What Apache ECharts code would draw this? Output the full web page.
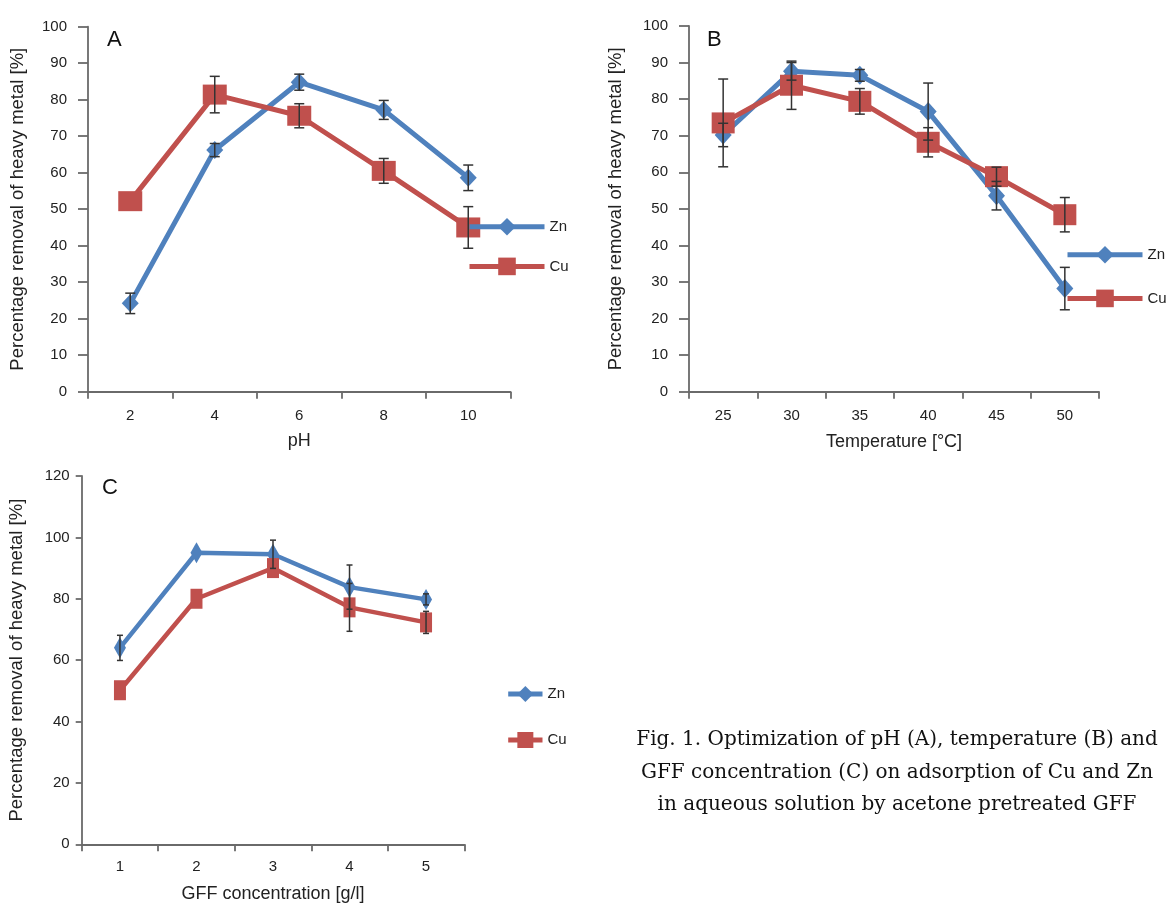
<!DOCTYPE html>
<html><head><meta charset="utf-8">
<script src="https://cdn.jsdelivr.net/npm/echarts@6/dist/echarts.min.js"></script>
<style>html,body{margin:0;padding:0;background:#fff}#c{width:1167px;height:905px}</style>
</head><body><div id="c"></div>
<script>
// ---- Panel A: pH ----
const phCats = ['2', '4', '6', '8', '10'];
const znPH = [24.2, 66.2, 84.8, 77.2, 58.6];
const cuPH = [52.2, 81.4, 75.6, 60.5, 45.0];
const znPHErr = [2.8, 1.8, 2.2, 2.6, 3.5];
const cuPHErr = [0, 5.0, 3.3, 3.4, 5.7];

// ---- Panel B: temperature ----
const tempCats = ['25', '30', '35', '40', '45', '50'];
const znT = [70.2, 87.6, 86.5, 76.6, 53.6, 28.2];
const cuT = [73.5, 83.8, 79.4, 68.2, 58.8, 48.4];
const znTErr = [3.2, 2.4, 1.6, 7.8, 3.9, 5.8];
const cuTErr = [12.0, 6.6, 3.5, 4.0, 2.6, 4.7];

// ---- Panel C: GFF concentration ----
const gffCats = ['1', '2', '3', '4', '5'];
const znG = [64.0, 95.0, 94.5, 83.8, 79.8];
const cuG = [50.2, 80.0, 90.0, 77.2, 72.3];
const znGErr = [4.1, 0, 4.6, 7.2, 1.8];
const cuGErr = [0, 0, 0, 7.8, 3.6];

const yTitle = 'Percentage removal of heavy metal [%]';
const BLUE = '#4F81BD', RED = '#C0504D';
const AXIS = '#6a6a6a';
const FONT = 'Liberation Sans, Arial, sans-serif';

const chart = echarts.init(document.getElementById('c'));

function errData(vals, errs) { return vals.map((v, i) => [i, v, errs[i]]); }
function errRender(capW) {
  return function (params, api) {
    const x = api.value(0), v = api.value(1), e = api.value(2);
    if (!e) return { type: 'group', children: [] };
    const hi = api.coord([x, v + e]), lo = api.coord([x, v - e]);
    const cx = hi[0];
    const style = { stroke: '#333', lineWidth: 1.5 };
    return { type: 'group', children: [
      { type: 'line', shape: { x1: cx, y1: hi[1], x2: cx, y2: lo[1] }, style },
      { type: 'line', shape: { x1: cx - capW / 2, y1: hi[1], x2: cx + capW / 2, y2: hi[1] }, style },
      { type: 'line', shape: { x1: cx - capW / 2, y1: lo[1], x2: cx + capW / 2, y2: lo[1] }, style }
    ]};
  };
}

function xAx(idx, cats, name, gap, labelMargin) {
  return {
    type: 'category', gridIndex: idx, data: cats, boundaryGap: true,
    name: name, nameLocation: 'middle', nameGap: gap,
    nameTextStyle: { fontFamily: FONT, fontSize: 18, color: '#222' },
    axisLine: { lineStyle: { color: AXIS, width: 1.8 } },
    axisTick: { show: true, length: 7, alignWithLabel: false, lineStyle: { color: AXIS, width: 1.8 } },
    axisLabel: { fontFamily: FONT, fontSize: 15, color: '#222', margin: labelMargin, interval: 0 },
    splitLine: { show: false }
  };
}
function yAx(idx, max, interval, gap, tickLen, labelMargin) {
  return {
    type: 'value', gridIndex: idx, min: 0, max: max, interval: interval,
    name: yTitle, nameLocation: 'middle', nameGap: gap,
    nameTextStyle: { fontFamily: FONT, fontSize: 18.5, color: '#222' },
    axisLine: { show: true, lineStyle: { color: AXIS, width: 1.8 } },
    axisTick: { show: true, length: tickLen, lineStyle: { color: AXIS, width: 1.8 } },
    axisLabel: { fontFamily: FONT, fontSize: 15, color: '#222', margin: labelMargin },
    splitLine: { show: false }
  };
}
function lineS(name, idx, data, color, sym, size, width) {
  return {
    type: 'line', name: name, xAxisIndex: idx, yAxisIndex: idx, data: data,
    symbol: sym, symbolSize: size, showSymbol: true,
    lineStyle: { color: color, width: width }, itemStyle: { color: color },
    emphasis: { disabled: true }, animation: false, z: 2
  };
}
function errS(idx, vals, errs, capW) {
  return {
    type: 'custom', xAxisIndex: idx, yAxisIndex: idx, data: errData(vals, errs),
    encode: { x: 0, y: 1 }, renderItem: errRender(capW), z: 4, animation: false, silent: true
  };
}
function legend(left, top, w, h, gap) {
  return {
    data: ['Zn', 'Cu'], orient: 'vertical', left: left, top: top,
    itemWidth: w, itemHeight: h, itemGap: gap, selectedMode: false,
    lineStyle: { width: 5 },
    textStyle: { fontFamily: FONT, fontSize: 15, color: '#222', padding: [0, 0, 0, 0] }
  };
}

const option = {
  backgroundColor: '#fff',
  animation: false,
  grid: [
    { left: 88, top: 26.7, width: 422.5, height: 365, containLabel: false, outerBoundsMode: 'none' },
    { left: 689, top: 26, width: 410, height: 365.7, containLabel: false, outerBoundsMode: 'none' },
    { left: 81.7, top: 476, width: 382.6, height: 368.3, containLabel: false, outerBoundsMode: 'none' }
  ],
  xAxis: [
    xAx(0, phCats, 'pH', 40, 17),
    xAx(1, tempCats, 'Temperature [°C]', 41, 17),
    xAx(2, gffCats, 'GFF concentration [g/l]', 41, 15)
  ],
  yAxis: [
    yAx(0, 100, 10, 61, 10, 21),
    yAx(1, 100, 10, 64, 10, 21),
    yAx(2, 120, 20, 55, 6, 12)
  ],
  legend: [
    legend(462, 213, 75, 22, 22),
    legend(1060, 241, 75, 22, 26),
    legend(500.7, 681, 34.3, 20, 30)
  ],
  series: [
    lineS('Zn', 0, znPH, BLUE, 'diamond', [17, 18], 5),
    lineS('Cu', 0, cuPH, RED, 'rect', [24, 20], 5),
    errS(0, znPH, znPHErr, 10),
    errS(0, cuPH, cuPHErr, 10),

    lineS('Zn', 1, znT, BLUE, 'diamond', [17, 19], 5),
    lineS('Cu', 1, cuT, RED, 'rect', [23, 21], 5),
    errS(1, znT, znTErr, 10),
    errS(1, cuT, cuTErr, 10),

    lineS('Zn', 2, znG, BLUE, 'diamond', [12, 21], 4.5),
    lineS('Cu', 2, cuG, RED, 'rect', [12, 20], 4.5),
    errS(2, znG, znGErr, 6),
    errS(2, cuG, cuGErr, 6)
  ],
  graphic: [
    { type: 'text', left: 107, top: 29, style: { text: 'A', font: '22px ' + FONT, fill: '#111' } },
    { type: 'text', left: 707, top: 29, style: { text: 'B', font: '22px ' + FONT, fill: '#111' } },
    { type: 'text', left: 102, top: 477, style: { text: 'C', font: '22px ' + FONT, fill: '#111' } },
    { type: 'text', x: 897, y: 724,
      style: { text: 'Fig. 1. Optimization of pH (A), temperature (B) and\nGFF concentration (C) on adsorption of Cu and Zn\nin aqueous solution by acetone pretreated GFF',
               font: '20px "DejaVu Serif", serif', fill: '#111',
               align: 'center', verticalAlign: 'top', lineHeight: 32.5 } }
  ]
};
chart.setOption(option);
</script>
</body></html>
